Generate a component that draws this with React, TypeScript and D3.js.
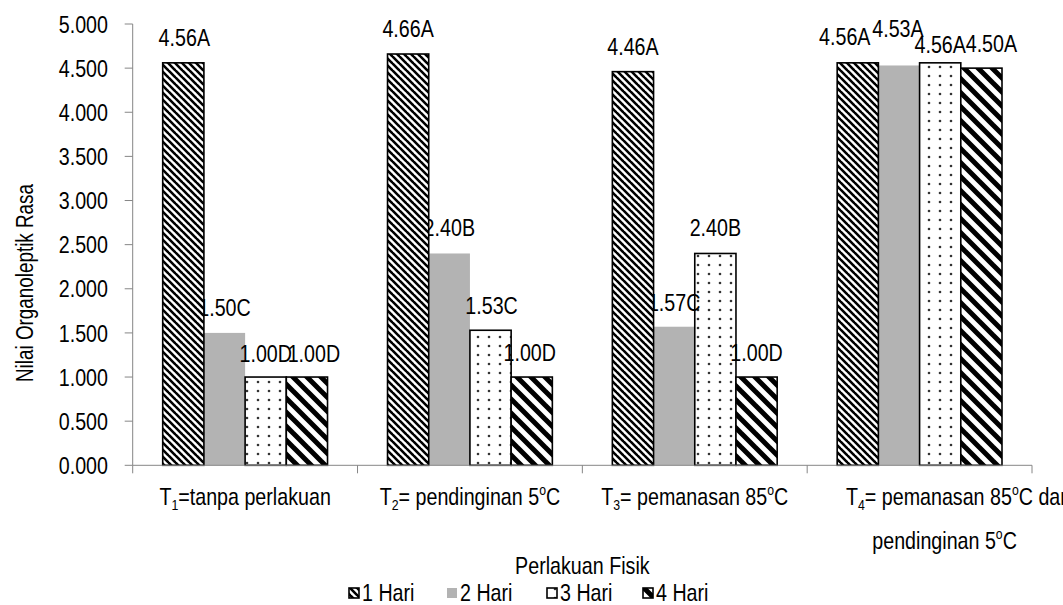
import React, { useEffect, useRef } from 'react';
import * as d3 from 'd3';

const groups = ['T1', 'T2', 'T3', 'T4'];
const seriesNames = ['1 Hari', '2 Hari', '3 Hari', '4 Hari'];
// values[series][group]
const values = [
  [4.56, 4.66, 4.46, 4.56],
  [1.5, 2.4, 1.57, 4.53],
  [1.0, 1.53, 2.4, 4.56],
  [1.0, 1.0, 1.0, 4.5],
];
const letters = [
  ['A', 'A', 'A', 'A'],
  ['C', 'B', 'C', 'A'],
  ['D', 'C', 'B', 'A'],
  ['D', 'D', 'D', 'A'],
];
const yTicks = [0, 0.5, 1, 1.5, 2, 2.5, 3, 3.5, 4, 4.5, 5];
// category labels: lines of [text, 'sub' | 'sup' | '']
const catLabels = [
  [[['T', ''], ['1', 'sub'], ['=tanpa perlakuan', '']]],
  [[['T', ''], ['2', 'sub'], ['= pendinginan 5', ''], ['o', 'sup'], ['C', '']]],
  [[['T', ''], ['3', 'sub'], ['= pemanasan 85', ''], ['o', 'sup'], ['C', '']]],
  [
    [['T', ''], ['4', 'sub'], ['= pemanasan 85', ''], ['o', 'sup'], ['C dan', '']],
    [['pendinginan 5', ''], ['o', 'sup'], ['C', '']],
  ],
];

// hand placed label nudges (Excel manual positions)
const labelDx = [
  [1, 0, 0, -13],
  [0, 0, 0, -1],
  [0, 1, 0, 0],
  [7, -2, 0, 10],
];
const labelDy = [
  [17, 17, 17, 18],
  [17, 17, 16, 28],
  [15, 16, 17, 10],
  [15, 16, 16, 16],
];
// per category, per line horizontal shift
const catShift = [[0], [0], [0], [39, 25]];

// no narrow font installed: squeeze Liberation Sans horizontally instead
const FONT = "'Liberation Sans', Arial, sans-serif";
const SQUEEZE = 0.82;

const App = () => {
  const ref = useRef<SVGSVGElement | null>(null);

  useEffect(() => {
    const svg = d3.select(ref.current);
    svg.selectAll('*').remove();

    const left = 132.7, right = 1032, top = 24, bottom = 465.3;

    const txt = (parent: any, x: number, y: number, size: number, anchor = 'start', rot = 0) =>
      parent.append('text')
        .attr('transform', `translate(${x},${y})${rot ? ` rotate(${rot})` : ''} scale(${SQUEEZE},1)`)
        .attr('font-family', FONT)
        .attr('font-size', size)
        .attr('fill', '#000')
        .attr('text-anchor', anchor);

    const defs = svg.append('defs');
    // 1 Hari: fine downward diagonal
    const p1 = defs.append('pattern').attr('id', 'pat1').attr('patternUnits', 'userSpaceOnUse')
      .attr('width', 7).attr('height', 7);
    p1.append('rect').attr('width', 7).attr('height', 7).attr('fill', '#fff');
    p1.append('path').attr('d', 'M-1,-1 L8,8 M-4.5,2.5 L0.5,7.5 M2.5,-4.5 L7.5,0.5')
      .attr('stroke', '#000').attr('stroke-width', 2.6);
    // 3 Hari: dots
    const p3 = defs.append('pattern').attr('id', 'pat3').attr('patternUnits', 'userSpaceOnUse')
      .attr('width', 11).attr('height', 9);
    p3.append('rect').attr('width', 11).attr('height', 9).attr('fill', '#fff');
    p3.append('circle').attr('cx', 5).attr('cy', 4).attr('r', 1.3).attr('fill', '#333');
    // 4 Hari: wide downward diagonal
    const p4 = defs.append('pattern').attr('id', 'pat4').attr('patternUnits', 'userSpaceOnUse')
      .attr('width', 14).attr('height', 14);
    p4.append('rect').attr('width', 14).attr('height', 14).attr('fill', '#fff');
    p4.append('path').attr('d', 'M-2,-2 L16,16 M-9,5 L-1,13 M5,-9 L13,-1 M-2,12 L2,16 M12,-2 L16,2')
      .attr('stroke', '#000').attr('stroke-width', 5);

    const fills = ['url(#pat1)', '#b3b3b3', 'url(#pat3)', 'url(#pat4)'];
    const strokes = ['#000', 'none', '#000', '#000'];

    const x0 = d3.scaleBand().domain(groups).range([left, right]).paddingInner(0).paddingOuter(0);
    const x1 = d3.scaleBand().domain(seriesNames).range([30, x0.bandwidth() - 30]);
    const y = d3.scaleLinear().domain([0, 5]).range([bottom, top]);

    const drawBars = (g: any, si: number) => {
      const s = seriesNames[si];
      groups.forEach((grp, gi) => {
        const v = values[si][gi];
        g.append('rect')
          .attr('x', (x0(grp) as number) + (x1(s) as number))
          .attr('y', y(v))
          .attr('width', x1.bandwidth())
          .attr('height', y(0) - y(v))
          .attr('fill', fills[si])
          .attr('stroke', strokes[si])
          .attr('stroke-width', 1.6);
      });
    };

    // series 2..4 bars, then labels, then 1 Hari bars on top (as in the original)
    const bars = svg.append('g');
    [1, 2, 3].forEach((si) => drawBars(bars, si));

    const labels = svg.append('g');
    seriesNames.forEach((s, si) => {
      groups.forEach((g, gi) => {
        const v = values[si][gi];
        const cx = (x0(g) as number) + (x1(s) as number) + x1.bandwidth() / 2 + labelDx[si][gi];
        txt(labels, cx, y(v) - labelDy[si][gi], 24, 'middle').text(v.toFixed(2) + letters[si][gi]);
      });
    });

    drawBars(svg.append('g'), 0);

    // y axis
    const ya = svg.append('g');
    ya.append('line').attr('x1', left).attr('x2', left).attr('y1', top).attr('y2', bottom)
      .attr('stroke', '#868686');
    yTicks.forEach((t) => {
      ya.append('line').attr('x1', left - 8).attr('x2', left).attr('y1', y(t)).attr('y2', y(t))
        .attr('stroke', '#868686');
      txt(ya, 108, y(t) + 8.6, 24, 'end').text(d3.format('.3f')(t));
    });

    // x axis
    const xa = svg.append('g');
    xa.append('line').attr('x1', left).attr('x2', right).attr('y1', bottom).attr('y2', bottom)
      .attr('stroke', '#868686');
    [...groups.map((g) => x0(g) as number), right].forEach((xv) => {
      xa.append('line').attr('x1', xv).attr('x2', xv).attr('y1', bottom).attr('y2', bottom + 8)
        .attr('stroke', '#868686');
    });

    groups.forEach((g, gi) => {
      catLabels[gi].forEach((line, li) => {
        const cx = (x0(g) as number) + x0.bandwidth() / 2 + catShift[gi][li];
        const t = txt(xa, cx, 505 + li * 44, 24, 'middle');
        let shift = 0;
        line.forEach(([str, kind]) => {
          const want = kind === 'sub' ? 5 : kind === 'sup' ? -10 : 0;
          const ts = t.append('tspan').text(str).attr('dy', want - shift);
          if (kind) ts.attr('font-size', 15);
          shift = want;
        });
      });
    });

    // axis titles
    txt(svg, 33, 283, 23, 'middle', -90).text('Nilai Organoleptik Rasa');
    txt(svg, (left + right) / 2, 574, 24, 'middle').text('Perlakuan Fisik');

    // legend
    const legX = [349, 447, 547, 643];
    const lg = svg.append('g');
    seriesNames.forEach((s, si) => {
      lg.append('rect').attr('x', legX[si]).attr('y', 588).attr('width', 10).attr('height', 10)
        .attr('fill', fills[si]).attr('stroke', strokes[si]).attr('stroke-width', 1.6);
      txt(lg, legX[si] + 13, 601, 24).text(s);
    });
  }, []);

  return (
    <svg
      ref={ref}
      width={1063}
      height={605}
      style={{ position: 'absolute', left: 0, top: 0, background: '#fff', display: 'block' }}
    />
  );
};

export default App;
